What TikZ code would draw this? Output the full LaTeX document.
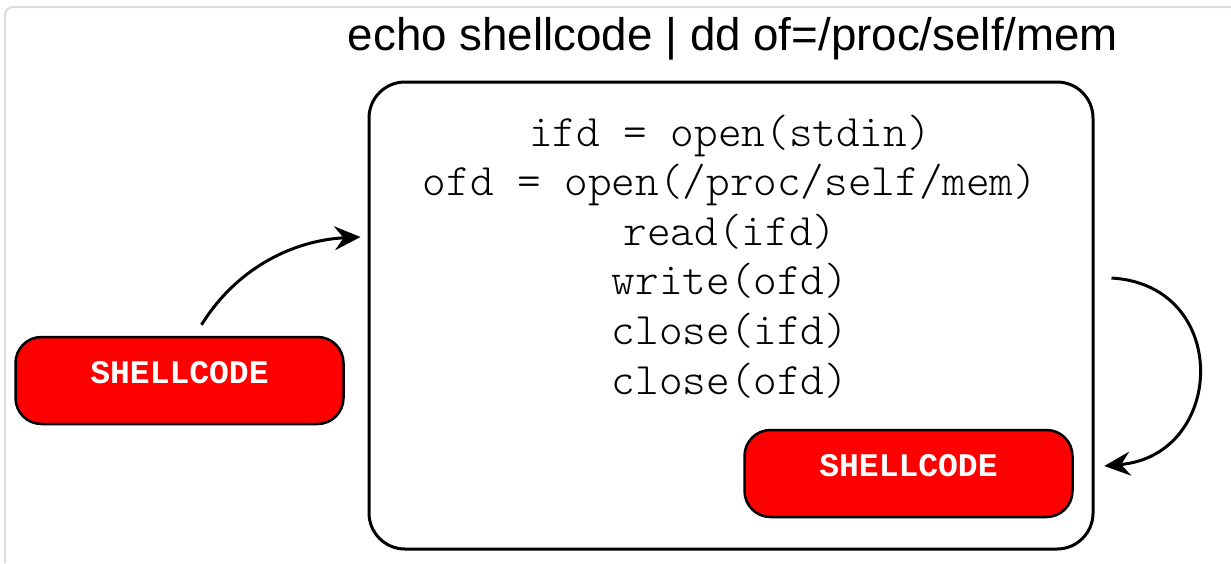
\documentclass[tikz,border=0pt]{standalone}
\usepackage{fontspec}
\setsansfont{Liberation Sans}
\newfontfamily\codefont{lmmonolt10-regular.otf}
\newfontfamily\payloadfont{Liberation Mono}
\usetikzlibrary{arrows.meta, positioning, calc}
\definecolor{payloadred}{HTML}{FF0000}
\definecolor{panelgray}{HTML}{DDDDDD}
\tikzset{
  procbox/.style={
    rectangle, rounded corners=36pt, draw=black, line width=3pt,
    minimum width=724pt, minimum height=467pt
  },
  payload/.style={
    rectangle, rounded corners=26pt, draw=black, line width=2.5pt,
    fill=payloadred, minimum width=328pt, minimum height=87pt,
    text=white, text depth=16pt,
    font=\fontsize{33}{33}\selectfont\payloadfont\bfseries
  },
  codeline/.style={
    anchor=base, font=\fontsize{45}{45}\selectfont\codefont
  },
  flow/.style={
    -{Stealth[length=26pt, width=24pt, inset=9pt]}, line width=3pt
  }
}

\begin{document}
\begin{tikzpicture}[x=1pt, y=-1pt]
  \useasboundingbox (0,0) rectangle (1231,563);

  % panel edge
  \draw[panelgray, line width=2pt, rounded corners=8pt] (5,563) -- (5,7) -- (1231,7);

  % Command line
  \node[font=\sffamily\fontsize{45.7}{46}\selectfont, anchor=base] (cmd) at (733,50)
    {echo shellcode | dd of=/proc/self/mem};

  % Process and its steps
  \node[procbox] (mem) at (731,315.5) {};
  \foreach \txt [count=\i] in {ifd = open(stdin), ofd = open(/proc/self/mem),
      read(ifd), write(ofd), close(ifd), close(ofd)}
    \node[codeline] (op\i) at (730,{146+49.6*(\i-1)}) {\txt};

  % Payloads
  \node[payload] (sc1) at (179.5,380.5) {SHELLCODE};
  \node[payload] (sc2) at (908.5,473.5) {SHELLCODE};

  % Flow
  \draw[flow] ([xshift=22pt, yshift=11pt]sc1.north)
    .. controls +(38,-61) and +(-62,3) .. ([xshift=-7pt, yshift=78.5pt]mem.west);
  \draw[flow] ([xshift=17pt, yshift=37.5pt]mem.east)
    .. controls +(120,7) and +(122,-11) .. ([xshift=30.5pt, yshift=7.5pt]sc2.east);

\end{tikzpicture}
\end{document}
